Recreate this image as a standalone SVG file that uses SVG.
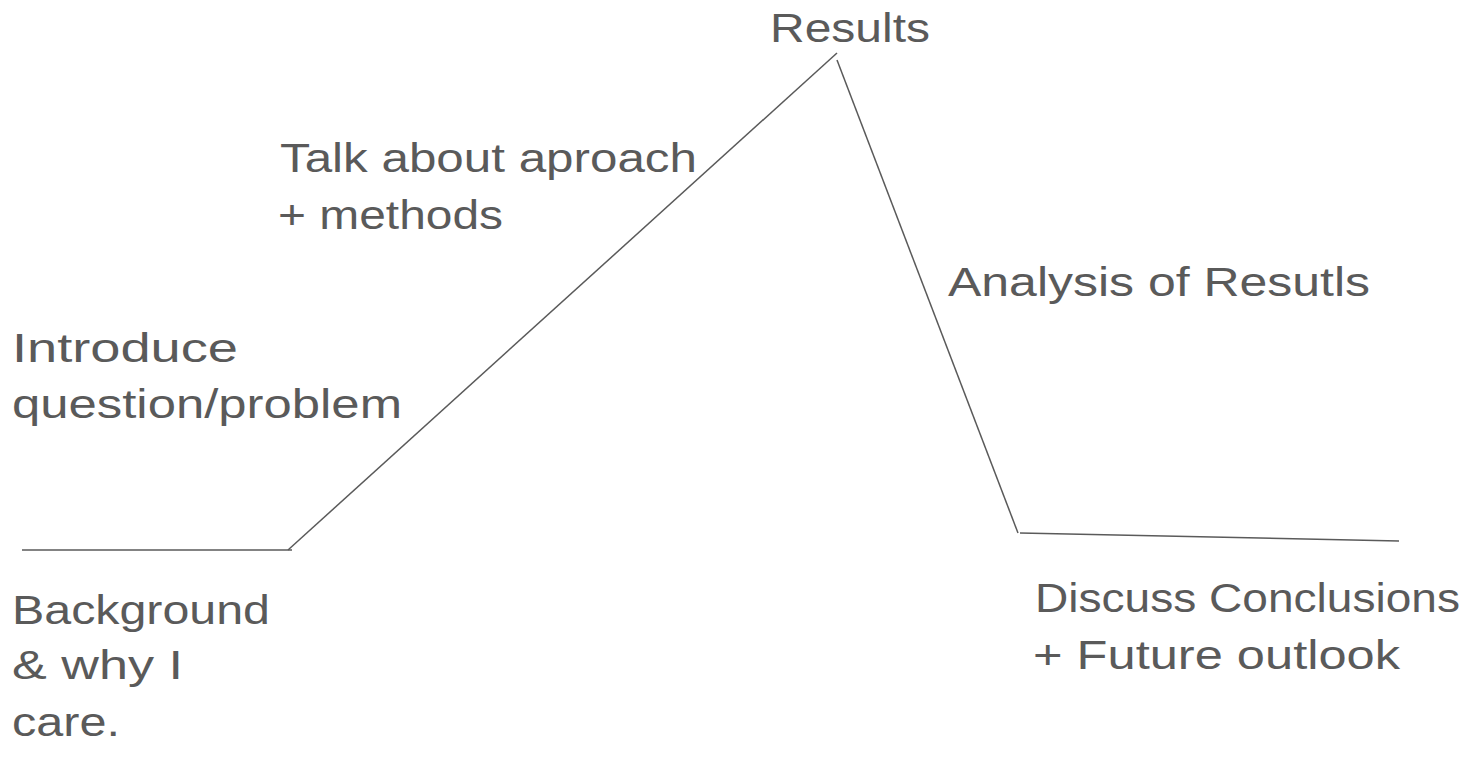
<svg xmlns="http://www.w3.org/2000/svg" width="1478" height="770" viewBox="0 0 1478 770">
<style>
.t{font-family:"Liberation Sans","DejaVu Sans",sans-serif;font-size:40px;fill:#5a5a5a}
.c{stroke:#5a5a5a;stroke-width:1.5;fill:none}
</style>
<rect width="1478" height="770" fill="#ffffff"/>
<g id="connectors">
<line class="c" x1="22" y1="550" x2="292" y2="550"/>
<line class="c" x1="288" y1="550" x2="837" y2="53"/>
<line class="c" x1="837" y1="60" x2="1018" y2="533"/>
<line class="c" x1="1020" y1="533" x2="1399" y2="541"/>
</g>
<g id="results"><text class="t" x="770" y="42" textLength="160" lengthAdjust="spacingAndGlyphs">Results</text></g>
<g id="approach">
<text class="t" x="280" y="172" textLength="417" lengthAdjust="spacingAndGlyphs">Talk about aproach</text>
<text class="t" x="278" y="229" textLength="225" lengthAdjust="spacingAndGlyphs">+ methods</text>
</g>
<g id="analysis"><text class="t" x="948" y="296" textLength="422" lengthAdjust="spacingAndGlyphs">Analysis of Resutls</text></g>
<g id="introduce">
<text class="t" x="12" y="362" textLength="226" lengthAdjust="spacingAndGlyphs">Introduce</text>
<text class="t" x="12" y="418" textLength="390" lengthAdjust="spacingAndGlyphs">question/problem</text>
</g>
<g id="background">
<text class="t" x="12" y="624" textLength="258" lengthAdjust="spacingAndGlyphs">Background</text>
<text class="t" x="12" y="679" textLength="171" lengthAdjust="spacingAndGlyphs">&amp; why I</text>
<text class="t" x="12" y="736" textLength="108" lengthAdjust="spacingAndGlyphs">care.</text>
</g>
<g id="conclusions">
<text class="t" x="1035" y="612" textLength="425" lengthAdjust="spacingAndGlyphs">Discuss Conclusions</text>
<text class="t" x="1033" y="669" textLength="367" lengthAdjust="spacingAndGlyphs">+ Future outlook</text>
</g>
</svg>
